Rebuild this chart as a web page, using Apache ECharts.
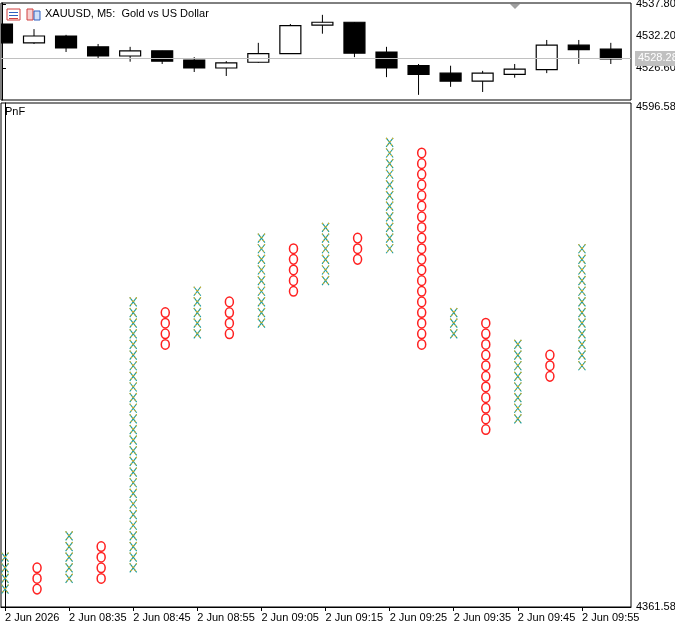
<!DOCTYPE html>
<html>
<head>
<meta charset="utf-8">
<script src="https://cdn.jsdelivr.net/npm/echarts@6/dist/echarts.min.js"></script>
<style>html,body{margin:0;padding:0;background:#fff}#main{width:675px;height:627px}</style>
</head>
<body>
<div id="main"></div>
<script>
// candles (M5)
var candleOpen  = [4534.3,4531.0,4532.2,4530.3,4528.7,4529.6,4528.0,4526.6,4527.6,4529.1,4534.1,4534.6,4529.4,4527.0,4525.7,4524.3,4525.5,4526.3,4530.6,4529.9];
var candleClose = [4531.0,4532.2,4530.1,4528.7,4529.6,4527.8,4526.6,4527.5,4529.1,4534.0,4534.6,4529.2,4526.6,4525.5,4524.3,4525.7,4526.4,4530.6,4529.8,4528.2];
var candleHigh  = [4534.3,4533.4,4532.4,4530.8,4530.3,4529.6,4528.5,4527.8,4531.0,4534.3,4535.9,4534.6,4530.3,4527.3,4527.0,4526.1,4527.3,4531.5,4531.5,4531.0];
var candleLow   = [4531.0,4530.8,4529.4,4528.2,4527.7,4527.3,4525.9,4525.2,4527.5,4529.1,4532.6,4528.5,4525.0,4521.9,4523.3,4522.4,4524.9,4525.7,4527.3,4527.3];
var lastPrice = 4528.28;
var topTicks = [4537.80, 4532.20, 4526.60];

// point & figure columns
var BOX = 5;
var pnfType = ['X','O','X','O','X','O','X','O','X','O','X','O','X','O','X','O','X','O','X'];
var pnfLow  = [4370,4370,4375,4375,4380,4485,4490,4490,4495,4510,4515,4525,4530,4485,4490,4445,4450,4470,4475];
var pnfHigh = [4385,4380,4395,4390,4505,4500,4510,4505,4535,4530,4540,4535,4580,4575,4500,4495,4485,4480,4530];
var pnfTicks = [4361.58, 4596.58];
var timeLabels = ['2 Jun 2026','2 Jun 08:35','2 Jun 08:45','2 Jun 08:55','2 Jun 09:05','2 Jun 09:15','2 Jun 09:25','2 Jun 09:35','2 Jun 09:45','2 Jun 09:55'];

var chart = echarts.init(document.getElementById('main'));
var FONT = 'Liberation Sans';

var candleData = candleOpen.map(function (o, i) {
  return [i, o, candleClose[i], candleLow[i], candleHigh[i]];
});
var pnfData = pnfType.map(function (t, i) {
  return [i, pnfLow[i], pnfHigh[i], t === 'X' ? 1 : 0];
});

function renderCandle(params, api) {
  var i = api.value(0), o = api.value(1), c = api.value(2);
  var lo = api.coord([i, api.value(3)]), hi = api.coord([i, api.value(4)]);
  var po = api.coord([i, o]), pc = api.coord([i, c]);
  var w = 21;
  var top = Math.min(po[1], pc[1]), h = Math.max(Math.abs(po[1] - pc[1]), 1);
  return {
    type: 'group',
    children: [
      { type: 'line', shape: { x1: lo[0], y1: lo[1], x2: hi[0], y2: hi[1] }, style: { stroke: '#000', lineWidth: 1 } },
      { type: 'rect', shape: { x: po[0] - w / 2, y: top, width: w, height: h },
        style: { fill: c < o ? '#000' : '#fff', stroke: '#000', lineWidth: 1.2 } }
    ]
  };
}

function renderPnf(params, api) {
  var i = api.value(0), lo = api.value(1), hi = api.value(2), isX = api.value(3) === 1;
  var kids = [];
  for (var p = lo; p <= hi + 0.001; p += BOX) {
    var pt = api.coord([i, p]);
    var cx = pt[0], cy = pt[1];
    if (isX) {
      [['#1a9a9a', null], ['#e0b020', [1.5, 2.5]]].forEach(function (s) {
        kids.push({ type: 'line', shape: { x1: cx - 3.5, y1: cy - 4.5, x2: cx + 3.5, y2: cy + 4.5 }, style: { stroke: s[0], lineWidth: 1.1, lineDash: s[1] } });
        kids.push({ type: 'line', shape: { x1: cx + 3.5, y1: cy - 4.5, x2: cx - 3.5, y2: cy + 4.5 }, style: { stroke: s[0], lineWidth: 1.1, lineDash: s[1] } });
      });
    } else {
      kids.push({ type: 'ellipse', shape: { cx: cx, cy: cy, rx: 4, ry: 4.8 }, style: { fill: 'none', stroke: '#ff2020', lineWidth: 1.5 } });
    }
  }
  return { type: 'group', children: kids };
}

var axisFont = { fontFamily: FONT, fontSize: 11, color: '#000' };

option = {
  animation: false,
  grid: [
    { left: 1, right: 44, top: 3, height: 97, show: true, borderColor: '#000', borderWidth: 1, outerBoundsMode: 'none', containLabel: false },
    { left: 1, right: 44, top: 103, height: 504, show: true, borderColor: '#000', borderWidth: 1, outerBoundsMode: 'none', containLabel: false }
  ],
  xAxis: [
    { gridIndex: 0, type: 'value', min: -0.03, max: 19.63, axisLine: { show: false }, axisTick: { show: false }, axisLabel: { show: false }, splitLine: { show: false } },
    { gridIndex: 1, type: 'value', min: -0.125, max: 19.53,
      axisLine: { show: true, lineStyle: { color: '#000' } },
      axisTick: { show: true, length: 4, customValues: [0, 2, 4, 6, 8, 10, 12, 14, 16, 18], lineStyle: { color: '#000' } },
      axisLabel: Object.assign({ customValues: [0, 2, 4, 6, 8, 10, 12, 14, 16, 18], align: 'left', margin: 5,
        formatter: function (v) { return timeLabels[Math.round(v / 2)]; } }, axisFont),
      splitLine: { show: false } }
  ],
  yAxis: [
    { gridIndex: 0, type: 'value', position: 'right', min: 4521.0, max: 4537.97,
      axisLine: { show: true, lineStyle: { color: '#000' } },
      axisTick: { show: true, length: 4, customValues: topTicks, lineStyle: { color: '#000' } },
      axisLabel: Object.assign({ customValues: topTicks, margin: 5, formatter: function (v) { return v.toFixed(2); } }, axisFont),
      splitLine: { show: false } },
    { gridIndex: 1, type: 'value', position: 'right', min: 4361.58, max: 4598.5,
      axisLine: { show: true, lineStyle: { color: '#000' } },
      axisTick: { show: true, length: 4, customValues: pnfTicks, lineStyle: { color: '#000' } },
      axisLabel: Object.assign({ customValues: pnfTicks, margin: 5, formatter: function (v) { return v.toFixed(3); } }, axisFont),
      splitLine: { show: false } }
  ],
  series: [
    { type: 'custom', xAxisIndex: 0, yAxisIndex: 0, renderItem: renderCandle, data: candleData, clip: true,
      markLine: { silent: true, symbol: 'none', lineStyle: { color: '#c0c0c0', type: 'solid', width: 1 },
        label: { position: 'end', formatter: lastPrice.toFixed(2), color: '#fff', backgroundColor: '#c0c0c0', padding: [2, 3], fontFamily: FONT, fontSize: 11, distance: 4 },
        data: [{ yAxis: lastPrice }] } },
    { type: 'custom', xAxisIndex: 1, yAxisIndex: 1, renderItem: renderPnf, data: pnfData, clip: true }
  ],
  graphic: [
    { type: 'rect', shape: { x: 7, y: 9, width: 13, height: 11 }, style: { fill: '#fff', stroke: '#d04040', lineWidth: 1 } },
    { type: 'rect', shape: { x: 9, y: 12, width: 9, height: 1 }, style: { fill: '#3060c0' } },
    { type: 'rect', shape: { x: 9, y: 15, width: 9, height: 1 }, style: { fill: '#3060c0' } },
    { type: 'rect', shape: { x: 9, y: 18, width: 9, height: 1 }, style: { fill: '#d04040' } },
    { type: 'rect', shape: { x: 27, y: 9, width: 6, height: 11 }, style: { fill: '#f8d0d0', stroke: '#d04040', lineWidth: 1 } },
    { type: 'rect', shape: { x: 34, y: 11, width: 6, height: 9 }, style: { fill: '#d0e0f8', stroke: '#3060c0', lineWidth: 1 } },
    { type: 'text', left: 45, top: 8, style: { text: 'XAUUSD, M5:  Gold vs US Dollar', fill: '#000', font: '11px ' + FONT } },
    { type: 'text', left: 5, top: 106, style: { text: 'PnF', fill: '#000', font: '11px ' + FONT } },
    { type: 'polygon', shape: { points: [[510, 4], [520, 4], [515, 9]] }, style: { fill: '#a0a0a0' } }
  ]
};

chart.setOption(option);
</script>
</body>
</html>
